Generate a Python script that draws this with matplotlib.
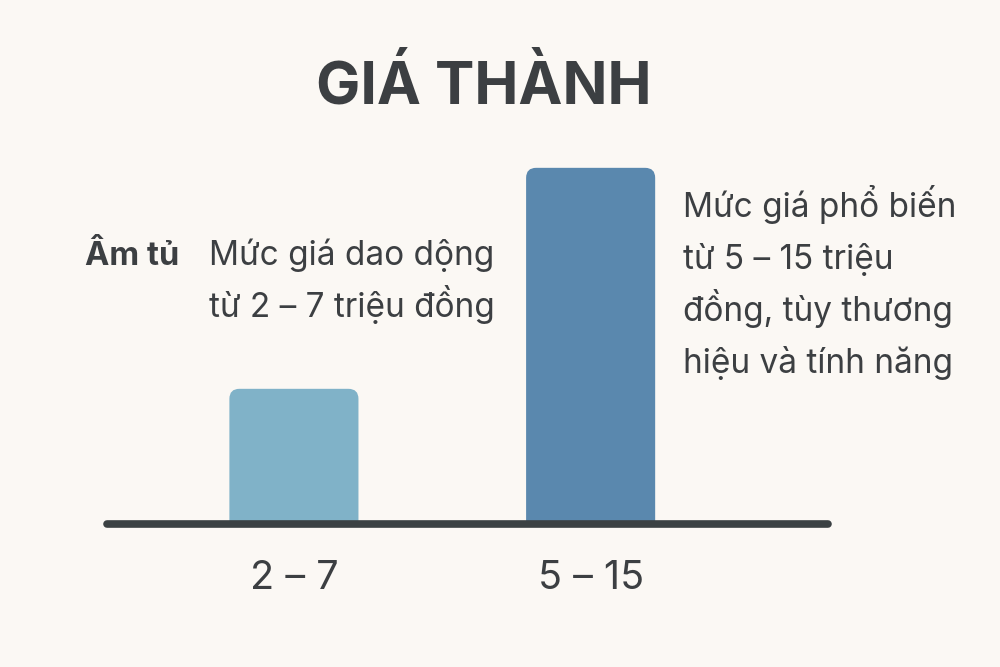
import matplotlib
matplotlib.use("Agg")
import matplotlib.pyplot as plt
from matplotlib.patches import FancyBboxPatch

# ---------- DATA ----------
categories = ["2 – 7", "5 – 15"]
values = [5.7, 15.0]          # bar heights (relative price level)
bar_colors = ["#80B2C8", "#5A88AE"]
title = "GIÁ THÀNH"
left_label = "Âm tủ"
left_note = ["Mức giá dao dộng", "từ 2 – 7 triệu đồng"]
right_note = ["Mức giá phổ biến", "từ 5 – 15 triệu",
              "đồng, tùy thương", "hiệu và tính năng"]

# ---------- THEME ----------
BG = "#FBF8F4"
TEXT = "#3C3F42"
AXIS = "#3B4143"
FONT = ["Inter", "DejaVu Sans"]
H = 667.0  # figure height in px, for placing text lines

plt.rcParams["font.family"] = FONT

fig = plt.figure(figsize=(10, 6.67), dpi=100)
fig.patch.set_facecolor(BG)

ax = fig.add_axes([0.107, 0.214, 0.721, 0.57])
ax.set_facecolor("none")
ax.set_xlim(-0.63, 1.80)
ax.set_ylim(0, 16)
for s in ax.spines.values():
    s.set_visible(False)
ax.set_xticks([])
ax.set_yticks([])

x = list(range(len(categories)))
bars = ax.bar(x, values, width=0.435, color=bar_colors)

# swap plain bars for rounded ones
fig.canvas.draw()
p0 = ax.transData.transform((0, 0))
p1 = ax.transData.transform((1, 1))
aspect = (p1[0] - p0[0]) / (p1[1] - p0[1])
r = 10 / (p1[0] - p0[0])
for rect, col in zip(bars, bar_colors):
    rect.remove()
    fb = FancyBboxPatch((rect.get_x(), -2), rect.get_width(), rect.get_height() + 2,
                        boxstyle=f"round,pad=0,rounding_size={r}",
                        mutation_aspect=aspect, facecolor=col, edgecolor="none",
                        zorder=2, clip_on=True)
    ax.add_patch(fb)

# baseline
ax.plot([-0.63, 1.80], [0, 0], color=AXIS, lw=5.5, solid_capstyle="round",
        clip_on=False, zorder=3)

# category labels below bars
for xi, lab in zip(x, categories):
    ax.text(xi, -2.3, lab, ha="center", va="center", fontsize=28.5, color=TEXT)

# title
fig.text(0.484, 0.87, title, ha="center", va="center", fontsize=42.5,
         fontweight="bold", color=TEXT)

# side notes, one line at a time for even spacing
fig.text(0.085, 1 - 265 / H, left_label, ha="left", va="baseline", fontsize=23.5,
         fontweight="bold", color=TEXT)
for i, line in enumerate(left_note):
    fig.text(0.209, 1 - (265 + 52 * i) / H, line, ha="left", va="baseline",
             fontsize=24, color=TEXT)
for i, line in enumerate(right_note):
    fig.text(0.683, 1 - (217 + 52 * i) / H, line, ha="left", va="baseline",
             fontsize=24, color=TEXT)

fig.savefig("out.png", dpi=100, facecolor=BG)
